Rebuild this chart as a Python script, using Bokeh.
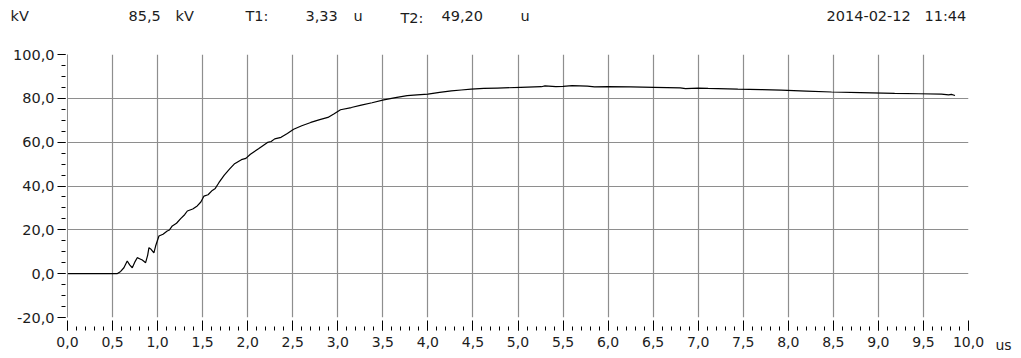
from bokeh.plotting import figure
from bokeh.models import FixedTicker, CustomJSTickFormatter, Range1d, ColumnDataSource
from bokeh.layouts import column, row
from bokeh.core.properties import value
from bokeh.embed import file_html
from bokeh.resources import INLINE

# ---- data ----
t_us = [0.0, 0.55, 0.59, 0.626, 0.663, 0.69, 0.719, 0.75, 0.774, 0.80, 0.83, 0.867, 0.89, 0.904,
        0.93, 0.959, 0.978, 1.015, 1.06, 1.107, 1.13, 1.163, 1.21, 1.256, 1.30, 1.33, 1.39, 1.44,
        1.48, 1.515, 1.56, 1.607, 1.64, 1.68, 1.74, 1.80, 1.85, 1.93, 1.98, 2.03, 2.12, 2.22, 2.26,
        2.30, 2.37, 2.44, 2.51, 2.60, 2.70, 2.80, 2.89, 2.96, 3.03, 3.15, 3.26, 3.38, 3.51, 3.64,
        3.77, 3.88, 4.00, 4.13, 4.26, 4.37, 4.48, 4.62, 4.77, 5.03, 5.26, 5.30, 5.42, 5.5, 5.6,
        5.77, 5.85, 6.0, 6.25, 6.51, 6.8, 6.86, 7.0, 7.11, 7.44, 7.7, 7.92, 8.2, 8.48, 8.8, 9.18,
        9.45, 9.70, 9.78, 9.81, 9.85]
kv = [0, 0, 1.0, 2.7, 5.8, 4.0, 2.7, 5.5, 7.3, 6.8, 6.2, 5.0, 8.5, 11.9,
      11.0, 9.5, 12.6, 17.2, 18.0, 19.5, 19.9, 21.8, 23.0, 25.1, 26.9, 28.6, 29.5, 30.9,
      32.7, 35.4, 36.0, 38.0, 38.9, 41.5, 45.0, 47.8, 50.0, 52.0, 52.6, 54.5, 57.0, 59.9, 60.3,
      61.5, 62.2, 64.0, 65.9, 67.5, 69.0, 70.3, 71.3, 73.0, 74.8, 75.8, 76.9, 78.0, 79.3, 80.3,
      81.2, 81.6, 81.9, 82.7, 83.4, 83.8, 84.2, 84.5, 84.7, 85.0, 85.3, 85.7, 85.3, 85.5, 85.8,
      85.6, 85.2, 85.3, 85.2, 85.0, 84.8, 84.4, 84.7, 84.5, 84.2, 84.0, 83.7, 83.3, 82.9, 82.6, 82.3,
      82.1, 81.9, 81.6, 81.8, 81.3]

x_ticks = [i * 0.5 for i in range(21)]
x_minor = [i * 0.1 for i in range(101)]
x_grid = [i * 0.5 for i in range(1, 20)]
y_ticks = [-20, 0, 20, 40, 60, 80, 100]
y_minor = list(range(-20, 101, 5))
y_grid = [0, 20, 40, 60, 80, 100]

header_texts = ["kV", "85,5", "kV", "T1:", "3,33", "u", "T2:", "49,20", "u", "2014-02-12", "11:44"]
unit_text = "us"

# ---- layout / style ----
FONT = "DejaVu Sans"
TXT = "#1c1c1c"
GRID = "#8e8e8e"
HEAD_H = 40
header_px = [10, 128, 175, 245, 305, 353, 400, 441, 520, 826, 924]
header_py = [15, 15, 15, 15, 15, 15, 17, 15, 15, 15, 15]


def bare(fig):
    fig.axis.visible = False
    fig.grid.visible = False
    fig.outline_line_color = None
    fig.min_border = 0
    return fig


def style_x(ax):
    ax.axis_line_color = None
    ax.major_tick_in = -3
    ax.major_tick_out = 13
    ax.minor_tick_in = -9
    ax.minor_tick_out = 13
    ax.major_label_standoff = 6
    ax.major_label_text_font = FONT
    ax.major_label_text_font_size = "14px"
    ax.major_label_text_color = TXT


# header strip
head = bare(figure(width=1016, height=HEAD_H, output_backend="svg", toolbar_location=None,
                   x_range=Range1d(0, 1016), y_range=Range1d(HEAD_H, 0)))
head.text(x="x", y="y", text="t",
          source=ColumnDataSource(dict(x=header_px, y=header_py, t=header_texts)),
          text_font=value(FONT), text_font_size="14.5px", text_color=TXT,
          text_baseline="middle", text_align="left")

# main chart
p = figure(width=990, height=316, output_backend="svg", toolbar_location=None,
           x_range=Range1d(0, 10), y_range=Range1d(-20, 100),
           min_border_left=67, min_border_right=22, min_border_top=14, min_border_bottom=39)
p.outline_line_color = None
p.line(t_us, kv, line_color="black", line_width=1.2)

fmt = CustomJSTickFormatter(code="return tick.toFixed(1).replace('.', ',');")

xa = p.xaxis[0]
xa.ticker = FixedTicker(ticks=x_ticks, minor_ticks=x_minor)
xa.formatter = fmt
style_x(xa)
xa.major_tick_line_color = "black"
xa.minor_tick_line_color = "black"

ya = p.yaxis[0]
ya.ticker = FixedTicker(ticks=y_ticks, minor_ticks=y_minor)
ya.formatter = fmt
ya.axis_line_color = GRID
ya.major_tick_line_color = "black"
ya.minor_tick_line_color = "black"
ya.major_tick_in = -2
ya.major_tick_out = 10
ya.minor_tick_in = -2
ya.minor_tick_out = 6
ya.major_label_standoff = 3
ya.major_label_text_font = FONT
ya.major_label_text_font_size = "14.5px"
ya.major_label_text_color = TXT

p.xgrid.ticker = FixedTicker(ticks=x_grid)
p.ygrid.ticker = FixedTicker(ticks=y_grid)
for g in (p.xgrid, p.ygrid):
    g.grid_line_color = GRID
    g.grid_line_width = 1.2

# unit strip to the right of the x axis: "us" drawn as an axis label row
side = figure(width=26, height=316, output_backend="svg", toolbar_location=None,
              x_range=Range1d(0, 26), y_range=Range1d(0, 1),
              min_border_left=0, min_border_right=0, min_border_top=14, min_border_bottom=39)
side.outline_line_color = None
side.grid.visible = False
side.yaxis.visible = False
sa = side.xaxis[0]
sa.ticker = FixedTicker(ticks=[13], minor_ticks=[])
sa.major_label_overrides = {13: unit_text}
style_x(sa)
sa.major_tick_line_color = None
sa.minor_tick_line_color = None

layout = column(head, row(p, side, spacing=0), spacing=0)

open("out.html", "w").write(file_html(layout, INLINE))
